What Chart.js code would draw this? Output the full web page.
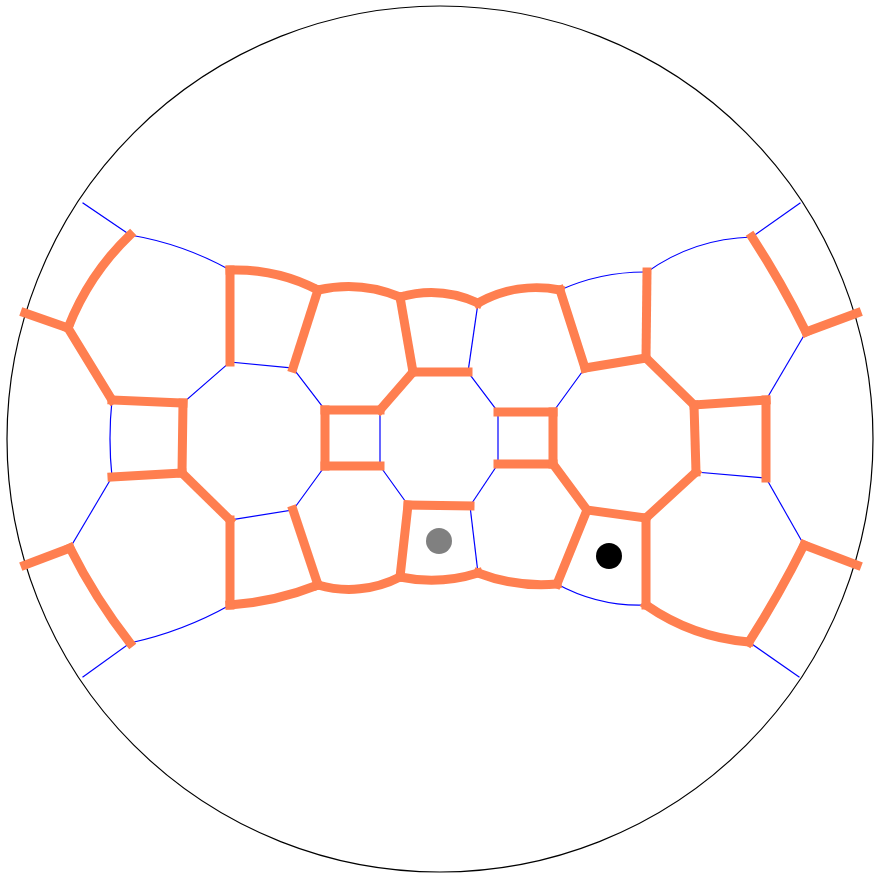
<!DOCTYPE html>
<html>
<head>
<meta charset="utf-8">
<script src="https://cdn.jsdelivr.net/npm/chart.js@4/dist/chart.umd.min.js"></script>
<style>
  html, body { margin: 0; padding: 0; background: #ffffff; }
  #wrap { width: 874px; height: 876px; position: relative; }
</style>
</head>
<body>
<div id="wrap"><canvas id="tiling"></canvas></div>
<script>
// disk coordinates, origin at the centre of the disk, y pointing up
var diskRadius = 433;

var nodeIds = ['A1','A2','A3','A4','A5','A6','A7','A8','A9','A10','A11','A12',
               'B1','B2','B3','B4','B5','B6','B7','B8',
               'C1','C2','C3','C4',
               'D1','D2','D3','D4','D5','D6','D7','D8',
               'E1','E2','E3','E4',
               'F1','F2','F3','F4','F5','F6','F7','F8',
               'G1','G2','G3','G4','G5','G6','G7','G8',
               'H1','H2','H3','H4'];
var nodeX = [-357,-310,-415,-372,-328,-257,-328,-258,-370,-415,-310,-357,
             -210,-210,-122,-147,-210,-210,-147,-122,
             -115,-60,-115,-60,
             -40,38,-27,28,-32,30,-40,38,
             58,113,58,113,
             120,207,145,206,147,206,117,206,
             254,326,256,326,312,366,364,309,
             360,417,417,359];
var nodeY = [236,204,126,111,39,36,-38,-34,-109,-126,-204,-238,
             169,77,149,71,-81,-166,-71,-146,
             29,29,-27,-27,
             142,136,67,67,-66,-67,-138,-134,
             27,27,-25,-25,
             149,167,71,81,-71,-79,-145,-166,
             34,39,-33,-39,202,107,-106,-203,
             236,126,-126,-238];

var thickEdges = ['A2-A4','A4-A3','A4-A5','A5-A6','A6-A8','A8-A7','A9-A10','A9-A11','A8-B5',
                  'B1-B2','B1-B3','B3-B4','B3-D1','B5-B6','B7-B8','B6-B8','B8-D7',
                  'C1-C2','C1-C3','C3-C4',
                  'D1-D2','D1-D3','D3-D4','D3-C2','D5-D6','D5-D7','D7-D8','D8-F7',
                  'E1-E2','E2-E4','E3-E4',
                  'D2-F1','F1-F3','F2-F4','F4-F3','F4-G1','G1-G2','G1-G3','G2-G4',
                  'G3-F6','F6-F5','F5-E4','F5-F7','F6-F8','F8-G8','G8-G7','G7-H3',
                  'G5-G6','G6-H2'];
var thinEdges = ['A1-A2','B1-A2','A5-A7','A7-A9','A11-A12','B6-A11','A6-B2','B2-B4','B4-C1',
                 'C3-B7','B7-B5','C2-C4','C4-D5','D4-E1','E1-E3','E3-D6','D2-D4','D6-D8',
                 'F1-F2','F2-G5','G5-H1','F3-E2','G6-G2','G3-G4','G4-G7','F7-F8','G8-H4'];

// points the curved edges pass through half way
var bendKeys = ['B1-B3','B3-D1','D1-D2','D2-F1','F1-F2','F2-G5','B1-A2','A2-A4','A9-A11','B6-A11',
                'B6-B8','B8-D7','D7-D8','D8-F7','F7-F8','F8-G8','G8-G7','G5-G6','A5-A7'];
var bendX = [-166,-81,-1,79,164,259,-262,-346,-343,-262,
             -168,-82,-1,77,162,257,339,340,-330];
var bendY = [165,152,146,150,163,193,192,161,-157,-190,
             -160,-150,-141,-144,-162,-192,-153,156,0];

var markerX = [-1, 169];
var markerY = [-102, -117];
var markerColors = ['#808080', '#000000'];

function nodePoint(id) {
    var i = nodeIds.indexOf(id);
    return { x: nodeX[i], y: nodeY[i] };
}

function edgeData(key) {
    var ends = key.split('-');
    var pts = [nodePoint(ends[0])];
    var b = bendKeys.indexOf(key);
    if (b >= 0) pts.push({ x: bendX[b], y: bendY[b] });
    pts.push(nodePoint(ends[1]));
    return pts;
}

function edgeDataset(key, color, width) {
    var pts = edgeData(key);
    var curved = pts.length === 3;
    return {
        data: pts,
        showLine: !curved,      // curved edges are drawn as circle arcs by the plugin below
        geodesic: curved,
        borderColor: color,
        borderWidth: width,
        borderCapStyle: 'square',
        pointRadius: 0
    };
}

var datasets = [];

// markers first so they sit on top
for (var m = 0; m < markerX.length; m++) {
    datasets.push({
        data: [{ x: markerX[m], y: markerY[m] }],
        showLine: false,
        pointRadius: 13,
        pointBackgroundColor: markerColors[m],
        pointBorderWidth: 0
    });
}

thickEdges.forEach(function (key) {
    datasets.push(edgeDataset(key, '#ff7f50', 9));
});

thinEdges.forEach(function (key) {
    datasets.push(edgeDataset(key, '#0000ff', 1.2));
});

function norm(a) {
    var t = a % (Math.PI * 2);
    return t < 0 ? t + Math.PI * 2 : t;
}

// draws a circle arc through the three pixel points of a curved edge
var geodesicArcs = {
    id: 'geodesicArcs',
    afterDatasetDraw: function (chart, args) {
        var ds = chart.data.datasets[args.index];
        if (!ds.geodesic) return;
        var p = args.meta.data;
        var x1 = p[0].x, y1 = p[0].y, x2 = p[1].x, y2 = p[1].y, x3 = p[2].x, y3 = p[2].y;
        var ctx = chart.ctx;
        ctx.save();
        ctx.strokeStyle = ds.borderColor;
        ctx.lineWidth = ds.borderWidth;
        ctx.lineCap = 'square';
        ctx.beginPath();
        var d = 2 * (x1 * (y2 - y3) + x2 * (y3 - y1) + x3 * (y1 - y2));
        if (Math.abs(d) < 1e-6) {
            ctx.moveTo(x1, y1);
            ctx.lineTo(x3, y3);
        } else {
            var s1 = x1 * x1 + y1 * y1, s2 = x2 * x2 + y2 * y2, s3 = x3 * x3 + y3 * y3;
            var ux = (s1 * (y2 - y3) + s2 * (y3 - y1) + s3 * (y1 - y2)) / d;
            var uy = (s1 * (x3 - x2) + s2 * (x1 - x3) + s3 * (x2 - x1)) / d;
            var r = Math.hypot(x1 - ux, y1 - uy);
            var a1 = Math.atan2(y1 - uy, x1 - ux);
            var a2 = Math.atan2(y2 - uy, x2 - ux);
            var a3 = Math.atan2(y3 - uy, x3 - ux);
            var forward = norm(a2 - a1) < norm(a3 - a1);
            ctx.arc(ux, uy, r, a1, a3, !forward);
        }
        ctx.stroke();
        ctx.restore();
    }
};

// boundary circle of the disk
var boundaryCircle = {
    id: 'boundaryCircle',
    beforeDatasetsDraw: function (chart) {
        var xs = chart.scales.x, ys = chart.scales.y;
        var cx = xs.getPixelForValue(0);
        var cy = ys.getPixelForValue(0);
        var r = xs.getPixelForValue(diskRadius) - cx;
        var ctx = chart.ctx;
        ctx.save();
        ctx.beginPath();
        ctx.arc(cx, cy, r, 0, Math.PI * 2);
        ctx.strokeStyle = '#000000';
        ctx.lineWidth = 1.2;
        ctx.stroke();
        ctx.restore();
    }
};

new Chart(document.getElementById('tiling'), {
    type: 'scatter',
    data: { datasets: datasets },
    options: {
        responsive: true,
        maintainAspectRatio: false,
        animation: false,
        events: [],
        layout: { padding: 0, autoPadding: false },
        scales: {
            x: { type: 'linear', min: -440, max: 434, display: false },
            y: { type: 'linear', min: -437, max: 439, display: false }
        },
        plugins: {
            legend: { display: false },
            tooltip: { enabled: false }
        }
    },
    plugins: [boundaryCircle, geodesicArcs]
});
</script>
</body>
</html>
